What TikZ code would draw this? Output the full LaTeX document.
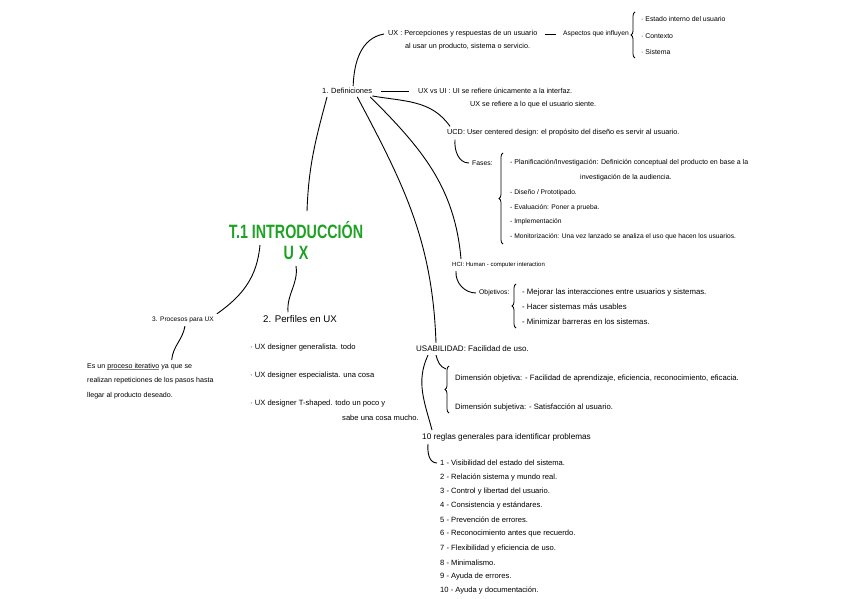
\documentclass[tikz,border=0pt]{standalone}
\usepackage{fontspec}
\setmainfont{Liberation Sans}
\usetikzlibrary{decorations.pathreplacing}
\definecolor{titlegreen}{RGB}{30,162,36}
\newcommand{\grayul}[1]{\setbox0\hbox{#1}\rlap{\color{gray}\rule[-1.6pt]{\wd0}{0.8pt}}\box0\relax}
\tikzset{
    txt/.style={anchor=west, inner sep=0pt, font=\fontsize{7.5}{8}\selectfont},
    sz/.style={font=\fontsize{#1}{8}\selectfont},
    headtxt/.style={inner sep=0pt, text=titlegreen, font=\fontsize{14.3}{16}\bfseries},
    link/.style={line width=0.9pt},
    curly/.style={line width=0.8pt, decorate, decoration={brace, amplitude=4pt}}
}
\begin{document}
\begin{tikzpicture}[x=1pt, y=-1pt]
    \useasboundingbox (0,0) rectangle (848,599);
    % Title
    \node[headtxt] (intro) at (296,230) {\scalebox{1}[1.35]{T.1 INTRODUCCIÓN}};
    \node[headtxt] (ux) at (296,253) {\scalebox{1}[1.35]{U\,\,X}};
    % 1. Definiciones
    \node[txt] (def) at (322,91) {1. Definiciones};
    \node[txt, sz=7.25] (uxdef) at (388,34) {UX : Percepciones y respuestas de un usuario};
    \node[txt, sz=7.2] (uxdef2) at (405,47) {al usar un producto, sistema o servicio.};
    \node[txt, sz=6.7] (aspectos) at (563,34) {Aspectos que influyen};
    \node[txt, sz=6.9] (estado) at (641,19) {· Estado interno del usuario};
    \node[txt, sz=6.9] (contexto) at (641,36) {· Contexto};
    \node[txt, sz=6.9] (sistema) at (641,52) {· Sistema};
    \draw[curly] (635,58) -- (635,12);
    \node[txt, sz=7.2] (uxui) at (418,91) {UX vs UI : UI se refiere únicamente a la interfaz.};
    \node[txt, sz=7.2] (uxui2) at (470,105) {UX se refiere a lo que el usuario siente.};
    % UCD
    \node[txt, sz=7.3] (ucd) at (447,133) {UCD: User centered design: el propósito del diseño es servir al usuario.};
    \node[txt, sz=6.8] (fases) at (472,163) {Fases:};
    \draw[curly] (503,244) -- (503,153);
    \node[txt, sz=7] (plan) at (510,163) {- Planificación/Investigación: Definición conceptual del producto en base a la};
    \node[txt, sz=7] (plan2) at (580,178) {investigación de la audiencia.};
    \node[txt, sz=6.7] (diseno) at (510,193) {- Diseño / Prototipado.};
    \node[txt, sz=6.7] (evalua) at (510,208) {- Evaluación: Poner a prueba.};
    \node[txt, sz=6.7] (implem) at (510,222) {- Implementación};
    \node[txt, sz=6.7] (monit) at (510,237) {- Monitorización: Una vez lanzado se analiza el uso que hacen los usuarios.};
    % HCI
    \node[txt, sz=6] (hci) at (452,265) {HCI: Human - computer interaction};
    \node[txt, sz=6.8] (objetivos) at (479,293) {Objetivos:};
    \draw[curly] (516,328) -- (516,284);
    \node[txt, sz=7.8] (obj1) at (522,292) {- Mejorar las interacciones entre usuarios y sistemas.};
    \node[txt, sz=7.8] (obj2) at (522,307) {- Hacer sistemas más usables};
    \node[txt, sz=7.8] (obj3) at (522,322) {- Minimizar barreras en los sistemas.};
    % Usabilidad
    \node[txt, sz=8] (usab) at (416,349) {USABILIDAD: Facilidad de uso.};
    \coordinate (dimtop) at (446,369);
    \draw[curly] (449,413) -- (449,366);
    \node[txt, sz=7.7] (dimobj) at (455,378) {Dimensión objetiva: - Facilidad de aprendizaje, eficiencia, reconocimiento, eficacia.};
    \node[txt, sz=7.7] (dimsub) at (455,407) {Dimensión subjetiva: - Satisfacción al usuario.};
    \node[txt, sz=8.2] (reglas) at (422,437) {10 reglas generales para identificar problemas};
    \foreach \n/\r in {1/Visibilidad del estado del sistema.,
                       2/Relación sistema y mundo real.,
                       3/Control y libertad del usuario.,
                       4/Consistencia y estándares.,
                       5/Prevención de errores.,
                       6/Reconocimiento antes que recuerdo.,
                       7/Flexibilidad y eficiencia de uso.,
                       8/Minimalismo.,
                       9/Ayuda de errores.,
                       10/Ayuda y documentación.}
        \node[txt, sz=7.6] (regla\n) at (440,{463+14.2*(\n-1)}) {\n\ - \r};
    % 3. Procesos
    \node[txt, sz=6.6] (proc) at (152,320) {3. Procesos para UX};
    \node[txt, align=left, font=\fontsize{7.1}{14.5}\selectfont] (procdesc) at (87,381)
        {Es un \grayul{proceso iterativo} ya que se\\realizan repeticiones de los pasos hasta\\llegar al producto deseado.};
    % 2. Perfiles
    \node[txt, sz=9.7] (perf) at (263,319) {2. Perfiles en UX};
    \node[txt, sz=7.6] (perf1) at (250,348) {· UX designer generalista. todo};
    \node[txt, sz=7.6] (perf2) at (250,376) {· UX designer especialista. una cosa};
    \node[txt, sz=7.6] (perf3) at (250,404) {· UX designer T-shaped. todo un poco y};
    \node[txt, sz=7.6] (perf4) at (342,418) {sabe una cosa mucho.};
    % Connectors
    \draw[link] ([xshift=6pt,yshift=2pt]def.north) to[out=88,in=190] ([xshift=-4pt]uxdef.west);
    \draw[link, shorten <=7pt, shorten >=7pt] (uxdef.east) -- (aspectos.west);
    \draw[link, shorten <=9pt, shorten >=9pt] (def.east) -- (uxui.west);
    \draw[link] ([yshift=-2pt]def.south east) to[out=-10,in=125] ([xshift=3pt,yshift=3pt]ucd.north west);
    \draw[link] ([xshift=-2pt,yshift=-3pt]def.south east) to[out=-45,in=95] ([xshift=9pt,yshift=3pt]hci.north west);
    \draw[link] ([xshift=-15pt,yshift=-3pt]def.south east) to[out=-62,in=92] ([xshift=20pt,yshift=3pt]usab.north west);
    \draw[link] ([xshift=5pt,yshift=-3pt]def.south west) to[out=-105,in=88] ([xshift=11pt,yshift=10pt]intro.north);
    \draw[link] ([xshift=8pt,yshift=-3pt]ucd.south west) to[out=-95,in=180] ([xshift=-3pt]fases.west);
    \draw[link] ([xshift=4pt,yshift=-3pt]hci.south west) to[out=-95,in=180] ([xshift=-3pt]objetivos.west);
    \draw[link] ([xshift=20pt,yshift=-3pt]usab.south west) to[out=-75,in=160] (dimtop);
    \draw[link] ([xshift=12pt,yshift=-3pt]usab.south west) to[out=-115,in=105] ([xshift=10pt,yshift=3pt]reglas.north west);
    \draw[link] ([xshift=6pt,yshift=-3pt]reglas.south west) to[out=-95,in=180] ([xshift=-3pt]regla1.west);
    \draw[link] ([xshift=-36pt,yshift=-6pt]intro.south) to[out=-95,in=35] ([xshift=3pt,yshift=3pt]proc.north east);
    \draw[link] ([yshift=-6pt]ux.south) to[out=-82,in=95] ([xshift=-12pt,yshift=3pt]perf.north);
    \draw[link] ([xshift=2pt,yshift=-3pt]proc.south) to[out=-100,in=85] ([xshift=-42pt,yshift=3pt]procdesc.north east);
\end{tikzpicture}
\end{document}
